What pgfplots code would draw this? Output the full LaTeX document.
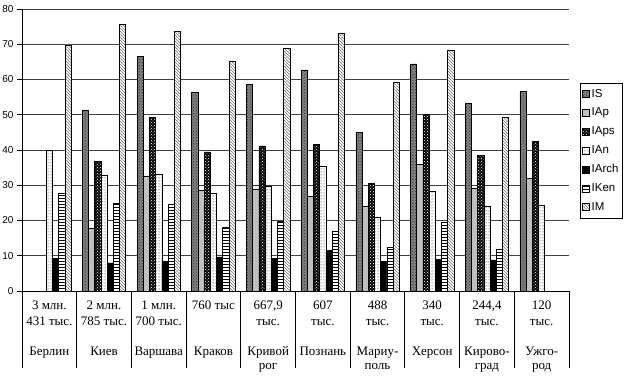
\documentclass[border=0pt]{standalone}
\usepackage{fontspec}
\setmainfont{Liberation Serif}
\setsansfont{Liberation Sans}
\usepackage{pgfplots}
\pgfplotsset{compat=1.18}
\usetikzlibrary{patterns}
\newcommand{\lab}[3]{\node[anchor=base, font=\fontsize{13}{15}\selectfont, inner sep=0pt] at (axis cs:#1,0) [yshift=#2] {#3};}
\begin{document}
\begin{tikzpicture}[x=1pt,y=1pt]
\useasboundingbox (0,0) rectangle (630,385);
\begin{axis}[
  at={(22pt,94pt)}, anchor=south west,
  scale only axis, width=547pt, height=282pt,
  xmin=-0.5, xmax=9.5, ymin=0, ymax=80,
  ybar=0pt, bar width=6.2pt,
  axis lines=left, axis line style={-, line width=0.8pt},
  ytick={0,10,...,80}, xtick=\empty,
  tick align=outside, major tick length=5pt,
  tick style={black, line width=0.6pt},
  ymajorgrids, grid style={black!75, line width=0.7pt},
  /pgf/number format/assume math mode=true,
  yticklabel style={font=\sffamily\fontsize{10}{12}\selectfont},
  clip=false,
  legend style={at={(1.02,0.738)}, anchor=north west, draw=black,
    font=\sffamily\fontsize{11.5}{13}\selectfont, row sep=5.4pt,
    inner xsep=2pt, inner ysep=4pt},
  legend cell align=left,
  every axis plot post/.append style={
    legend image code/.code={\draw[##1, line width=0.5pt] (0pt,-3.5pt) rectangle (7pt,3.5pt);}},
  every axis plot/.append style={draw=black, line width=0.5pt},
]
% IS
\addplot[fill=black!50, postaction={pattern=crosshatch dots, pattern color=black!80}] coordinates {
 (1,51.3) (2,66.5) (3,56.4) (4,58.6) (5,62.7) (6,45.0) (7,64.4) (8,53.2) (9,56.7)};
% IAp
\addplot[fill=black!25] coordinates {
 (1,17.8) (2,32.6) (3,28.5) (4,28.9) (5,26.8) (6,23.9) (7,35.9) (8,29.1) (9,32.0)};
% IAps
\addplot[fill=black, postaction={pattern=crosshatch dots, pattern color=white}] coordinates {
 (1,36.7) (2,49.3) (3,39.5) (4,41.2) (5,41.7) (6,30.5) (7,50.1) (8,38.4) (9,42.4)};
% IAn
\addplot[fill=white, postaction={pattern=dots, pattern color=black}] coordinates {
 (0,39.8) (1,32.9) (2,33.2) (3,27.7) (4,29.6) (5,35.5) (6,20.8) (7,28.4) (8,23.9) (9,24.2)};
% IArch
\addplot[fill=black] coordinates {
 (0,9.3) (1,8.0) (2,8.3) (3,9.7) (4,9.3) (5,11.6) (6,8.3) (7,9.0) (8,8.8)};
% IKen
\addplot[fill=white, postaction={pattern=horizontal lines, pattern color=black}] coordinates {
 (0,27.7) (1,25.0) (2,24.7) (3,18.0) (4,19.9) (5,17.0) (6,12.3) (7,19.4) (8,11.8)};
% IM
\addplot[fill=white, postaction={pattern=north west lines, pattern color=black!55}] coordinates {
 (0,69.8) (1,75.7) (2,73.6) (3,65.2) (4,69.0) (5,73.1) (6,59.2) (7,68.2) (8,49.3)};
\legend{IS,IAp,IAps,IAn,IArch,IKen,IM}
% table lines
\pgfplotsinvokeforeach{-0.5,0.5,1.5,2.5,3.5,4.5,5.5,6.5,7.5,8.5,9.5}{
  \draw[black, line width=0.8pt] (axis cs:#1,0) -- ++(0pt,-77pt);
}
\lab{0}{-18.5pt}{3 млн.}
\lab{0}{-35pt}{431 тыс.}
\lab{0}{-65pt}{Берлин}
\lab{1}{-18.5pt}{2 млн.}
\lab{1}{-35pt}{785 тыс.}
\lab{1}{-65pt}{Киев}
\lab{2}{-18.5pt}{1 млн.}
\lab{2}{-35pt}{700 тыс.}
\lab{2}{-65pt}{Варшава}
\lab{3}{-18.5pt}{760 тыс}
\lab{3}{-65pt}{Краков}
\lab{4}{-18.5pt}{667,9}
\lab{4}{-35pt}{тыс.}
\lab{4}{-65pt}{Кривой}
\lab{4}{-79pt}{рог}
\lab{5}{-18.5pt}{607}
\lab{5}{-35pt}{тыс.}
\lab{5}{-65pt}{Познань}
\lab{6}{-18.5pt}{488}
\lab{6}{-35pt}{тыс.}
\lab{6}{-65pt}{Мариу-}
\lab{6}{-79pt}{поль}
\lab{7}{-18.5pt}{340}
\lab{7}{-35pt}{тыс.}
\lab{7}{-65pt}{Херсон}
\lab{8}{-18.5pt}{244,4}
\lab{8}{-35pt}{тыс.}
\lab{8}{-65pt}{Кирово-}
\lab{8}{-79pt}{град}
\lab{9}{-18.5pt}{120}
\lab{9}{-35pt}{тыс.}
\lab{9}{-65pt}{Ужго-}
\lab{9}{-79pt}{род}
\end{axis}
\end{tikzpicture}
\end{document}
